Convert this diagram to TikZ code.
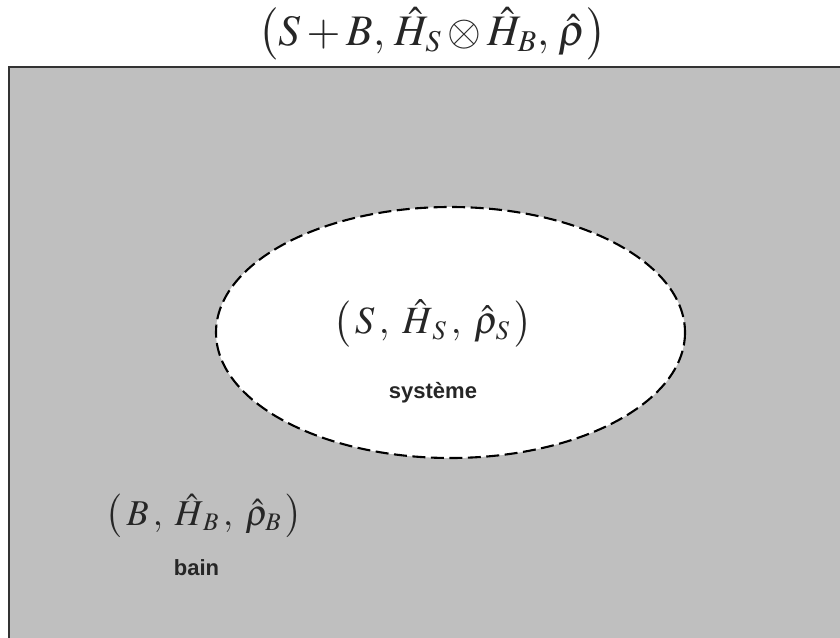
\documentclass[tikz,border=0pt]{standalone}
\usepackage{amsmath}
\usepackage{graphicx}
\usepackage{mathptmx}
\usepackage{fontspec}
\setsansfont{Liberation Sans}
\usetikzlibrary{positioning}

\tikzset{
    formule/.style={inner sep=0pt, text=black!85, font=\fontsize{24.88}{30}\selectfont},
    nom/.style={inner sep=0pt, anchor=base, text=black!85, font=\fontsize{22}{26}\selectfont\sffamily\bfseries},
}

\begin{document}
\begin{tikzpicture}[x=1pt, y=-1pt]
    \clip (0,0) rectangle (840,637);

    % Bain (fond gris)
    \draw[line width=1.6pt, black!80, fill=black!25] (9,67) rectangle (860,660);

    % Systeme (ellipse en tirets)
    \draw[line width=2.1pt, dash pattern=on 13pt off 5.5pt, fill=white] (450.5,332.5) ellipse (234.5 and 125.5);

    % Formules
    \node[formule] (total) at (432.5,34) {\scalebox{1.75}{$\bigl(S+B,\,\hat{H}_S\otimes\hat{H}_B,\,\hat{\rho}\bigr)$}};
    \node[formule] (sysform) at (432.5,323.5) {\scalebox{1.55}{$\left(\,S\,,\;\hat{H}_{\,S}\,,\;\hat{\rho}_S\,\right)$}};
    \node[formule] (bainform) at (204,516) {\scalebox{1.46}{$\left(\,B\,,\;\hat{H}_{\,B}\,,\;\hat{\rho}_B\,\right)$}};

    % Noms
    \node[nom] (sysnom) at (433,398) {système};
    \node[nom] (bainnom) at (196.5,575) {bain};
\end{tikzpicture}
\end{document}
